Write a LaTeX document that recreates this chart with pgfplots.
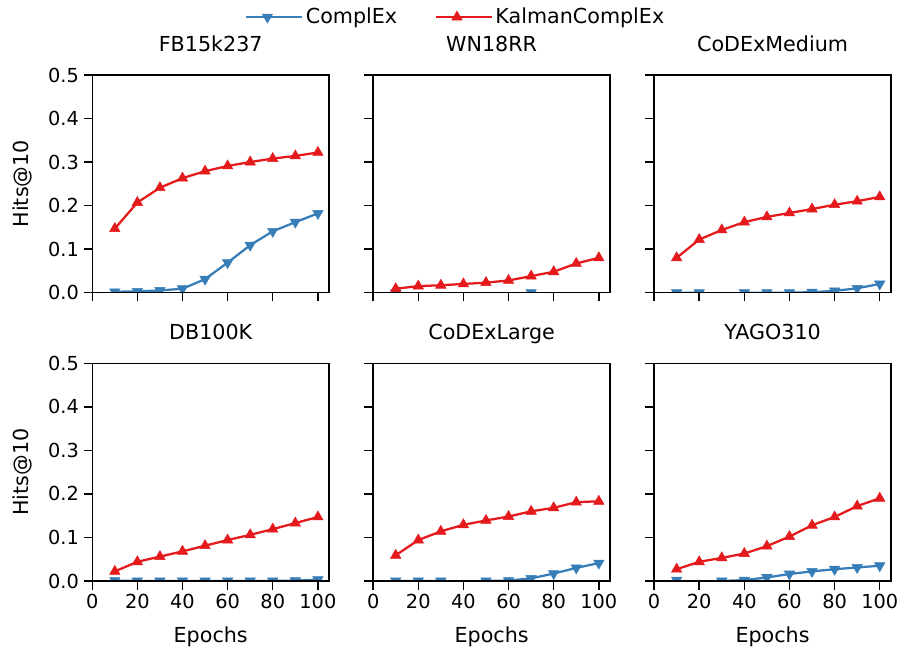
\documentclass[border=0pt]{standalone}
\usepackage{fontspec}
\setmainfont{DejaVu Sans}
\usepackage{pgfplots}
\usepackage{pgfplotstable}
\pgfplotsset{compat=1.18}
\usepgfplotslibrary{groupplots}
\usetikzlibrary{calc}
\definecolor{cblue}{HTML}{377EB8}
\definecolor{cred}{HTML}{E41A1C}

% x = epochs, c = ComplEx, k = KalmanComplEx (nan = not shown)
\pgfplotstableread{
x c k
10 0.002 0.147
20 0.003 0.207
30 0.005 0.241
40 0.009 0.263
50 0.031 0.279
60 0.069 0.291
70 0.109 0.300
80 0.141 0.308
90 0.162 0.314
100 0.182 0.322
}\fb
\pgfplotstableread{
x c k
10 0.000 0.009
20 nan 0.015
30 nan 0.017
40 nan 0.020
50 nan 0.023
60 nan 0.028
70 0.000 0.038
80 nan 0.048
90 nan 0.067
100 nan 0.080
}\wn
\pgfplotstableread{
x c k
10 0.000 0.080
20 0.000 0.122
30 nan 0.144
40 0.000 0.162
50 0.000 0.174
60 0.000 0.183
70 0.001 0.192
80 0.004 0.202
90 0.010 0.210
100 0.020 0.220
}\cdm
\pgfplotstableread{
x c k
10 0.001 0.022
20 0.000 0.044
30 0.000 0.056
40 0.000 0.068
50 0.000 0.081
60 0.000 0.094
70 0.000 0.106
80 0.000 0.119
90 0.001 0.133
100 0.003 0.147
}\db
\pgfplotstableread{
x c k
10 0.000 0.059
20 0.000 0.094
30 0.000 0.114
40 nan 0.129
50 0.000 0.139
60 0.001 0.148
70 0.006 0.160
80 0.017 0.168
90 0.030 0.181
100 0.041 0.183
}\cdl
\pgfplotstableread{
x c k
10 0.002 0.027
20 nan 0.044
30 0.000 0.053
40 0.002 0.063
50 0.008 0.080
60 0.016 0.102
70 0.022 0.128
80 0.027 0.147
90 0.031 0.172
100 0.035 0.190
}\yago

\pgfplotsset{
  cx/.style={cblue, line width=1.7pt, mark=triangle*, mark size=4.5pt,
    mark options={rotate=180, line width=0.4pt}},
  kx/.style={cred, line width=1.7pt, mark=triangle*, mark size=4.5pt,
    mark options={line width=0.4pt}},
}

\begin{document}
\begin{tikzpicture}
\begin{groupplot}[
  group style={group name=G, group size=3 by 2,
    horizontal sep=33pt, vertical sep=53pt,
    x descriptions at=edge bottom, y descriptions at=edge left},
  scale only axis, width=177.75pt, height=163.3pt,
  xmin=0, xmax=105, ymin=0, ymax=0.5,
  xtick={0,20,...,100}, ytick={0,0.1,0.2,0.3,0.4,0.5},
  yticklabel style={/pgf/number format/.cd, fixed, fixed zerofill, precision=1},
  /pgf/number format/assume math mode=true,
  tick align=outside, tick pos=left, major tick length=6.5pt,
  axis line style={line width=1.1pt},
  every tick/.style={black, line width=1.1pt},
  tick label style={font=\fontsize{14.5}{17}\selectfont},
  title style={at={(0.5,1)}, anchor=base, yshift=11.5pt, font=\fontsize{15.5}{18}\selectfont},
  xlabel={Epochs}, ylabel={Hits@10},
  label style={font=\fontsize{15.5}{18}\selectfont},
  xlabel style={at={(axis description cs:0.5,-0.257)}, anchor=center},
  ylabel style={at={(axis description cs:-0.295,0.5)}, anchor=center},
  axis on top, clip marker paths=true, unbounded coords=jump,
  legend image code/.code={
    \draw[mark repeat=2, mark phase=2] plot coordinates {(0pt,0pt) (16pt,0pt) (32pt,0pt)};
    \path (0pt,0pt) -- (42pt,0pt);},
]
\nextgroupplot[title={FB15k237},
  legend style={at={(1.535,1.266)}, anchor=center, draw=none, fill=none,
    legend columns=2, font=\fontsize{15.5}{18}\selectfont,
    /tikz/every even column/.append style={column sep=26pt}}]
\addplot[cx] table[x=x, y=c] {\fb};
\addlegendentry{ComplEx}
\addplot[kx] table[x=x, y=k] {\fb};
\addlegendentry{KalmanComplEx}

\nextgroupplot[title={WN18RR}]
\addplot[cx] table[x=x, y=c] {\wn};
\addplot[kx] table[x=x, y=k] {\wn};

\nextgroupplot[title={CoDExMedium}]
\addplot[cx] table[x=x, y=c] {\cdm};
\addplot[kx] table[x=x, y=k] {\cdm};

\nextgroupplot[title={DB100K}]
\addplot[cx] table[x=x, y=c] {\db};
\addplot[kx] table[x=x, y=k] {\db};

\nextgroupplot[title={CoDExLarge}]
\addplot[cx] table[x=x, y=c] {\cdl};
\addplot[kx] table[x=x, y=k] {\cdl};

\nextgroupplot[title={YAGO310}]
\addplot[cx] table[x=x, y=c] {\yago};
\addplot[kx] table[x=x, y=k] {\yago};
\end{groupplot}
\pgfresetboundingbox
\path[use as bounding box] ($(G c1r1.north west)+(-69.2pt,56.25pt)$)
  rectangle ($(G c3r2.south east)+(5.25pt,-51.75pt)$);
\end{tikzpicture}
\end{document}
